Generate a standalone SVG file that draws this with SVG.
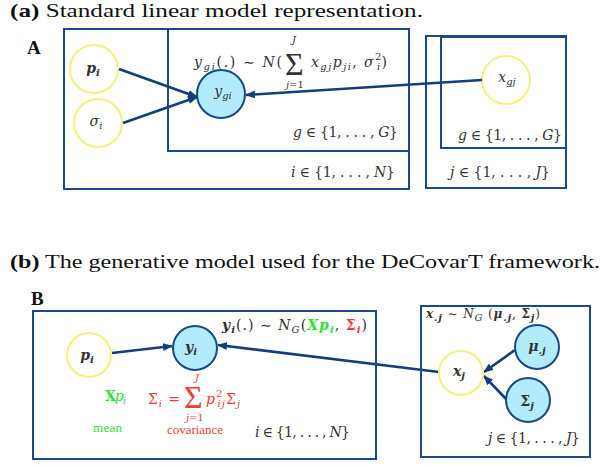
<svg xmlns="http://www.w3.org/2000/svg" width="610" height="465" viewBox="0 0 610 465">
<style>
.title{font-family:"Liberation Serif","DejaVu Serif",serif;font-size:19px;fill:#111}
.lbl{font-family:"Liberation Serif","DejaVu Serif",serif;font-size:19px;font-weight:bold;fill:#111}
.plate{fill:none;stroke:#1c4a88;stroke-width:2}
.m{font-family:"DejaVu Serif","Liberation Serif",serif;font-size:14px;font-style:italic;fill:#333}
.mr{font-style:normal}
.s{font-size:10px}
.sm{font-size:10px}
.big{font-family:"Liberation Serif","DejaVu Serif",serif;font-size:32px;font-style:normal;fill:#333}
.yc{fill:#fff;stroke:#f5f07c;stroke-width:2}
.bc{fill:#b2ebfb;stroke:#154a85;stroke-width:2}
.edge{stroke:#123f7a;stroke-width:2.6;fill:none}
.g{fill:#33e033}
.r{fill:#f03a3a}
.w{font-family:"Liberation Serif","DejaVu Serif",serif;font-size:13px}
</style>
<defs>
<marker id="ah" markerUnits="userSpaceOnUse" markerWidth="10" markerHeight="10" viewBox="0 0 10 10" refX="9" refY="5" orient="auto">
<path d="M0,1 L10,5 L0,9 z" fill="#123f7a"/>
</marker>
</defs>

<text class="title" x="10" y="17" textLength="413" lengthAdjust="spacingAndGlyphs"><tspan font-weight="bold">(a)</tspan> Standard linear model representation.</text>
<text class="lbl" x="27" y="54">A</text>

<g id="plate-i-a"><rect class="plate" x="64" y="29" width="345" height="160"/>
<text class="m" x="291" y="177" textLength="104">i <tspan class="mr">∈ {1, . . . , </tspan>N<tspan class="mr">}</tspan></text></g>
<g id="plate-g-a"><rect class="plate" x="168" y="29" width="241" height="122"/>
<text class="m" x="293" y="137" textLength="105">g <tspan class="mr">∈ {1, . . . , </tspan>G<tspan class="mr">}</tspan></text></g>
<g id="plate-j-a"><rect class="plate" x="426" y="36" width="140" height="152"/>
<text class="m" x="450" y="177" textLength="100">j <tspan class="mr">∈ {1, . . . , </tspan>J<tspan class="mr">}</tspan></text></g>
<g id="plate-g2-a"><rect class="plate" x="441" y="37" width="125" height="111"/>
<text class="m" x="458" y="140" textLength="104">g <tspan class="mr">∈ {1, . . . , </tspan>G<tspan class="mr">}</tspan></text></g>

<g id="formula-a">
<text class="m" x="194" y="67" textLength="88">y<tspan class="s" dy="3">gi</tspan><tspan class="mr" dy="-3">(.) ∼ </tspan>N<tspan class="mr">(</tspan></text>
<text class="big" x="285" y="75">Σ</text>
<text class="m sm" x="292" y="43">J</text>
<text class="m sm" x="286" y="88">j<tspan class="mr">=1</tspan></text>
<text class="m" x="311" y="67" textLength="76">x<tspan class="s" dy="3">gj</tspan><tspan dy="-3">p</tspan><tspan class="s" dy="3">ji</tspan><tspan class="mr" dy="-3">, </tspan>σ<tspan class="s mr" dy="-7">2</tspan><tspan class="s" dx="-6" dy="10">i</tspan><tspan class="mr" dy="-3">)</tspan></text>
</g>

<g id="node-p-a"><circle class="yc" cx="94" cy="69" r="24"/><text class="m" x="93" y="73" text-anchor="middle" font-weight="bold">p<tspan class="s" dy="3">i</tspan></text></g>
<g id="node-sigma-a"><circle class="yc" cx="98" cy="123" r="24"/><text class="m" x="96" y="126" text-anchor="middle">σ<tspan class="s" dy="3">i</tspan></text></g>
<g id="node-y-a"><circle class="bc" cx="221" cy="94" r="24"/><text class="m" x="223" y="96" text-anchor="middle">y<tspan class="s" dy="3">gi</tspan></text></g>
<g id="node-x-a"><circle class="yc" cx="506" cy="80" r="24"/><text class="m" x="507" y="82" text-anchor="middle">x<tspan class="s" dy="3">gj</tspan></text></g>

<g id="connectors">
<line class="edge" x1="119" y1="69" x2="197" y2="97" marker-end="url(#ah)"/>
<line class="edge" x1="123" y1="123" x2="197" y2="97" marker-end="url(#ah)"/>
<line class="edge" x1="482" y1="80" x2="246" y2="95" marker-end="url(#ah)"/>
<line class="edge" x1="112" y1="353" x2="172" y2="346" marker-end="url(#ah)"/>
<line class="edge" x1="439" y1="372" x2="218" y2="345" marker-end="url(#ah)"/>
<line class="edge" x1="515" y1="350" x2="484" y2="372" marker-end="url(#ah)"/>
<line class="edge" x1="507" y1="400" x2="484" y2="376" marker-end="url(#ah)"/>
</g>

<text class="title" x="10" y="268" textLength="590" lengthAdjust="spacingAndGlyphs"><tspan font-weight="bold">(b)</tspan> The generative model used for the DeCovarT framework.</text>
<text class="lbl" x="31" y="305">B</text>

<g id="plate-i-b"><rect class="plate" x="33" y="311" width="343" height="148"/>
<text class="m" x="255" y="437" textLength="95">i <tspan class="mr">∈ {1, . . . , </tspan>N<tspan class="mr">}</tspan></text></g>
<g id="formula-b">
<text class="m" x="222" y="330" font-weight="bold" textLength="145">y<tspan class="s" dy="3">i</tspan><tspan class="mr" font-weight="normal" dy="-3">(.) ∼ </tspan><tspan font-weight="normal">N</tspan><tspan class="s" font-weight="normal" dy="3">G</tspan><tspan class="mr" font-weight="normal" dy="-3">(</tspan><tspan class="g">Xp</tspan><tspan class="s g" dy="3">i</tspan><tspan class="mr" font-weight="normal" dy="-3">, </tspan><tspan class="r mr">Σ</tspan><tspan class="s r" dy="3">i</tspan><tspan class="mr" font-weight="normal" dy="-3">)</tspan></text>
</g>
<g id="mean-b">
<text class="m g" x="105" y="401" textLength="21"><tspan class="mr" font-weight="bold">X</tspan>p<tspan class="s" dy="3">i</tspan></text>
<text class="w g" x="93" y="432" textLength="29">mean</text>
</g>
<g id="cov-b">
<text class="m r" x="148" y="404" textLength="32"><tspan class="mr">Σ</tspan><tspan class="s" dy="3">i</tspan><tspan class="mr" dy="-3"> =</tspan></text>
<text class="big r" x="184" y="408">Σ</text>
<text class="m sm r" x="195" y="381">J</text>
<text class="m sm r" x="186" y="421">j<tspan class="mr">=1</tspan></text>
<text class="m r" x="206" y="404" textLength="34">p<tspan class="s mr" dy="-7">2</tspan><tspan class="s" dx="-6" dy="10">ij</tspan><tspan class="mr" dy="-3">Σ</tspan><tspan class="s" dy="3">j</tspan></text>
<text class="w r" x="167" y="434" textLength="56">covariance</text>
</g>

<g id="node-p-b"><circle class="yc" cx="89" cy="355" r="22"/><text class="m" x="87" y="360" text-anchor="middle" font-weight="bold">p<tspan class="s" dy="3">i</tspan></text></g>
<g id="node-y-b"><circle class="bc" cx="195" cy="348" r="22"/><text class="m" x="191" y="352" text-anchor="middle" font-weight="bold">y<tspan class="s" dy="3">i</tspan></text></g>

<g id="plate-j-b"><rect class="plate" x="421" y="306" width="169" height="151"/>
<text class="m" x="426" y="318" style="font-size:12px" font-weight="bold" textLength="114">x<tspan class="s" dy="3">.j</tspan><tspan class="mr" font-weight="normal" dy="-3"> ∼ </tspan><tspan font-weight="normal">N</tspan><tspan class="s" font-weight="normal" dy="3">G</tspan><tspan class="mr" font-weight="normal" dy="-3"> (</tspan>μ<tspan class="s" dy="3">.j</tspan><tspan class="mr" font-weight="normal" dy="-3">, </tspan><tspan class="mr">Σ</tspan><tspan class="s" dy="3">j</tspan><tspan class="mr" font-weight="normal" dy="-3">)</tspan></text>
<text class="m" x="488" y="443" textLength="92">j <tspan class="mr">∈ {1, . . . , </tspan>J<tspan class="mr">}</tspan></text></g>
<g id="node-x-b"><circle class="yc" cx="461" cy="373" r="22"/><text class="m" x="459" y="376" text-anchor="middle" font-weight="bold">x<tspan class="s" dy="3">j</tspan></text></g>
<g id="node-mu-b"><circle class="bc" cx="537" cy="347" r="22"/><text class="m" x="537" y="351" text-anchor="middle" font-weight="bold">μ<tspan class="s" dy="3">.j</tspan></text></g>
<g id="node-Sigma-b"><circle class="bc" cx="528" cy="400" r="22"/><text class="m" x="527" y="406" text-anchor="middle" font-weight="bold"><tspan class="mr">Σ</tspan><tspan class="s" dy="3">j</tspan></text></g>
</svg>
